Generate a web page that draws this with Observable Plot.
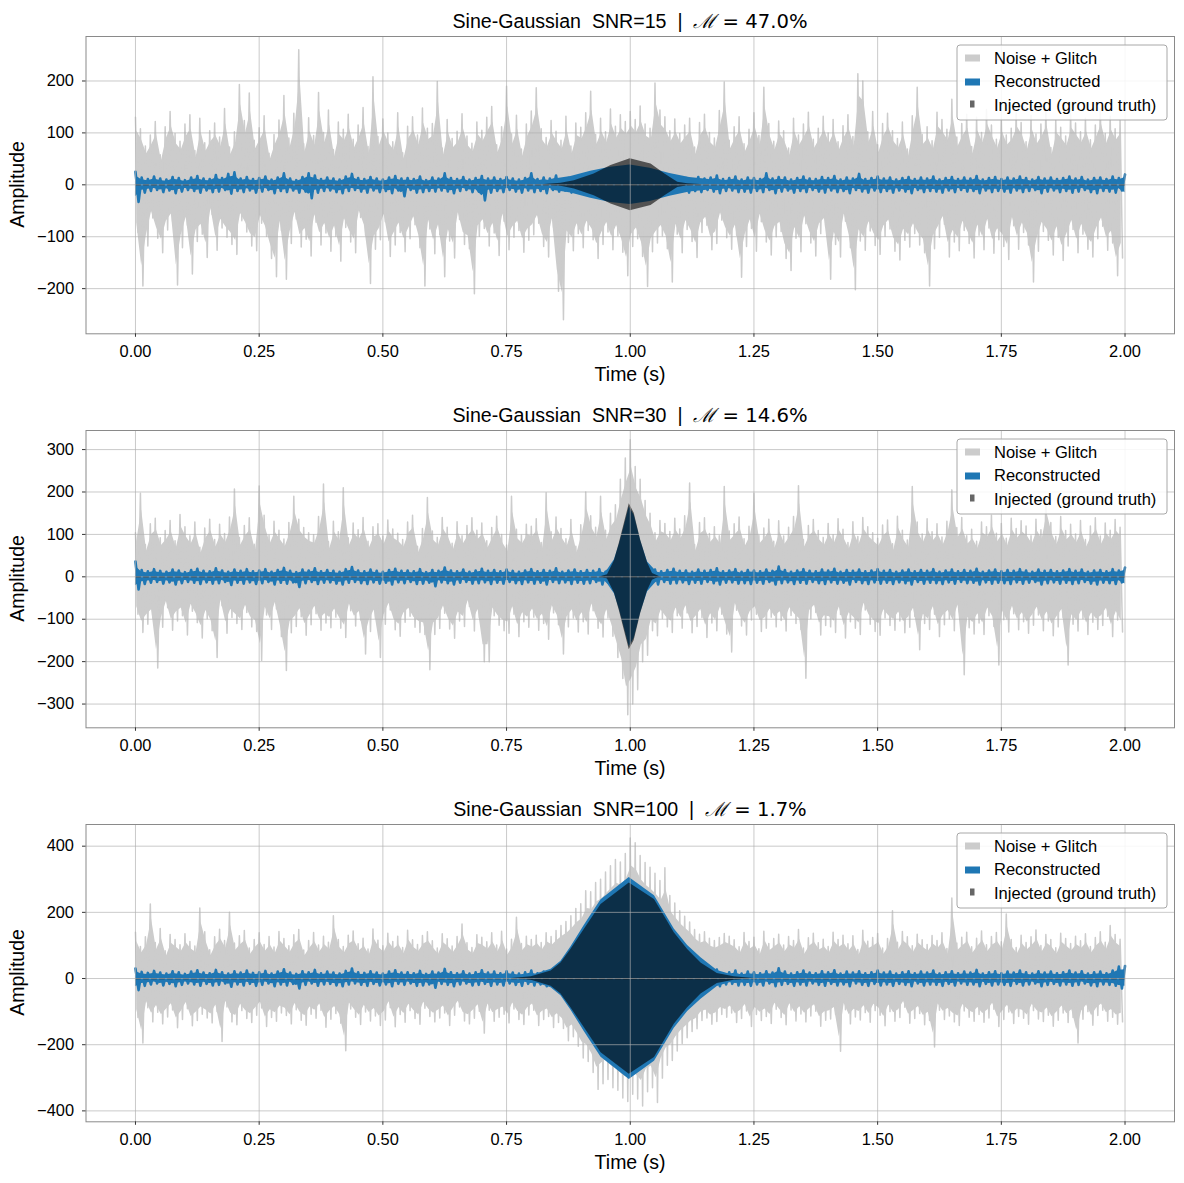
<!DOCTYPE html>
<html>
<head>
<meta charset="utf-8">
<script src="https://cdn.jsdelivr.net/npm/d3@7"></script>
<script src="https://cdn.jsdelivr.net/npm/@observablehq/plot@0.6"></script>
<style>
  html, body { margin: 0; padding: 0; background: #fff; }
  svg { display: block; }
</style>
</head>
<body>
<div id="chart"></div>
<script>
// ---------------- data ----------------
const snrLabels = ["15", "30", "100"];
const mismatchLabels = ["47.0%", "14.6%", "1.7%"];
const xTicks = [0, 0.25, 0.5, 0.75, 1.0, 1.25, 1.5, 1.75, 2.0];
const yTicks1 = [-200, -100, 0, 100, 200];
const yTicks2 = [-300, -200, -100, 0, 100, 200, 300];
const yTicks3 = [-400, -200, 0, 200, 400];
const legendLabels = ["Noise + Glitch", "Reconstructed", "Injected (ground truth)"];

const NOISE_DT = 0.005;   // sample spacing of the noise values below (s)
const REC_DT = 0.0125;    // sample spacing of the reconstructed band values (s)

// Noise + Glitch, panel 1 (SNR=15)
const noise1 = [
130,-92,108,-195,75,-118,96,-64,122,-103,58,-131,112,-87,141,-70,99,-193,84,-121,
117,-78,135,-172,66,-109,128,-95,81,-140,104,-57,119,-126,92,-83,147,-101,73,-115,
102,-134,193,-69,124,-91,177,-118,86,-127,110,-74,133,-99,61,-142,97,-177,125,-88,
172,-182,90,-113,138,-66,260,-120,79,-105,129,-137,95,-72,178,-116,101,-93,144,-128,
68,-99,121,-147,107,-82,136,-110,88,-131,115,-63,149,-97,74,-190,208,-124,93,-106,
127,-71,100,-138,83,-116,139,-92,62,-129,113,-104,131,-77,96,-121,148,-195,109,-85,
118,-133,199,-96,71,-177,126,-108,89,-141,103,-67,137,-115,94,-123,80,-210,121,-99,
105,-84,130,-118,151,-93,77,-136,112,-70,190,-125,98,-101,134,-88,69,-130,117,-107,
142,-96,187,-74,108,-119,91,-139,124,-82,103,-205,86,-260,132,-111,75,-127,119,-94,
111,-121,139,-88,180,-106,97,-142,128,-115,102,-91,146,-125,113,-98,135,-130,122,-175,
141,-119,126,-104,152,-138,117,-196,109,-129,196,-112,144,-98,131,-123,104,-187,127,-95,
99,-131,115,-86,128,-109,73,-140,120,-92,136,-78,101,-125,90,-113,143,-68,198,-102,
86,-124,112,-97,131,-178,79,-119,107,-84,139,-128,95,-71,188,-110,118,-135,84,-100,
123,-90,104,-142,71,-165,128,-103,96,-129,117,-75,140,-112,88,-137,109,-94,132,-81,
100,-182,126,-115,83,-139,114,-70,135,-121,93,-202,214,-108,200,-126,102,-89,141,-117,
77,-134,118,-99,138,-85,104,-128,89,-145,121,-107,69,-120,133,-94,188,-116,97,-131,
112,-195,85,-123,140,-101,126,-76,107,-139,165,-110,92,-127,118,-88,136,-113,74,-141,
130,-97,101,-125,145,-83,115,-132,88,-106,127,-119,96,-144,109,-79,139,-124,120,-92,
83,-116,134,-187,98,-128,117,-90,143,-107,72,-135,125,-101,111,-146,94,-118,137,-86,
119,-131,102,-95,128,-124,87,-139,115,-104,146,-80,99,-126,132,-112,108,-175,125,-141
];

// Noise + Glitch, panel 2 (SNR=30)
const noise2 = [
104,-88,197,-131,76,-112,125,-97,138,-215,92,-119,109,-73,133,-126,85,-104,147,-92,
118,-137,97,-81,129,-108,70,-144,115,-99,136,-127,88,-190,124,-68,102,-133,141,-96,
207,-110,93,-124,121,-84,139,-118,77,-129,214,-197,145,-90,98,-124,131,-76,110,-141,
89,-221,128,-132,190,-117,136,-94,116,-138,104,-113,99,-87,142,-126,219,-109,83,-120,
131,-95,106,-121,210,-143,92,-80,127,-116,111,-102,140,-182,84,-129,118,-98,125,-190,
96,-112,134,-78,113,-125,103,-140,88,-107,129,-93,145,-119,72,-131,114,-136,187,-219,
108,-136,93,-122,140,-86,117,-123,79,-145,130,-104,97,-117,121,-70,139,-128,110,-96,
127,-200,85,-200,116,-92,143,-114,100,-127,75,-133,190,-88,112,-141,98,-106,124,-119,
119,-95,137,-126,81,-110,198,-147,106,-85,141,-113,114,-182,90,-118,135,-97,72,-130,
123,-106,200,-135,144,-80,117,-121,190,-142,110,-97,150,-140,170,-190,230,-240,280,-325,
323,-300,260,-266,230,-200,180,-185,150,-127,104,-139,133,-98,126,-118,107,-131,138,-92,
113,-121,144,-85,221,-132,76,-117,128,-96,139,-143,102,-109,118,-127,97,-88,213,-135,
108,-177,125,-79,141,-116,90,-137,119,-102,197,-88,98,-129,115,-121,136,-95,84,-118,
132,-103,96,-128,117,-91,142,-110,215,-124,88,-239,121,-99,135,-84,109,-137,93,-115,
126,-118,99,-131,137,-89,112,-144,81,-106,130,-121,95,-136,140,-78,118,-112,104,-129,
91,-138,122,-97,134,-115,78,-126,143,-104,110,-132,87,-119,213,-93,129,-172,101,-110,
137,-124,106,-88,125,-141,94,-113,131,-99,205,-127,116,-83,140,-231,97,-120,112,-135,
84,-109,129,-136,118,-92,145,-117,103,-208,126,-101,91,-130,138,-87,114,-125,132,-106,
120,-133,97,-114,136,-90,111,-127,187,-104,128,-139,95,-118,142,-96,109,-208,124,-112,
101,-128,133,-99,88,-136,120,-107,139,-124,96,-115,127,-93,110,-141,135,-102,117,-130
];

// Noise + Glitch, panel 3 (SNR=100)
const noise3 = [
140,-118,97,-195,126,-88,225,-131,109,-102,151,-137,84,-116,133,-95,118,-149,102,-124,
135,-91,112,-143,98,-127,213,-108,141,-119,87,-134,126,-100,149,-190,115,-86,200,-131,
107,-140,129,-97,145,-121,92,-133,118,-111,138,-89,103,-145,127,-118,95,-129,142,-104,
121,-112,99,-137,132,-94,148,-126,86,-141,115,-108,139,-120,101,-96,128,-147,110,-123,
190,-106,118,-135,97,-218,131,-92,144,-117,105,-139,122,-101,89,-128,150,-113,116,-142,
99,-125,137,-88,112,-146,128,-109,94,-132,146,-97,117,-121,103,-138,130,-90,141,-115,
114,-131,92,-119,135,-104,120,-142,98,-111,127,-86,165,-128,108,-137,94,-120,132,-99,
125,-165,111,-96,138,-129,101,-117,143,-108,89,-134,119,-92,185,-124,106,-139,128,-110,
118,-96,131,-142,109,-124,138,-115,127,-148,145,-133,160,-151,172,-188,190,-176,212,-205,
226,-240,265,-251,262,-284,290,-335,300,-318,322,-305,341,-330,360,-338,352,-361,378,-372,
425,-350,410,-364,372,-385,351,-342,336,-330,318,-375,296,-301,335,-262,251,-248,228,-219,
205,-196,188,-179,171,-160,148,-152,134,-127,141,-119,122,-138,115,-130,124,-109,136,-117,
128,-104,117,-133,96,-121,139,-98,112,-145,125,-109,90,-127,143,-115,106,-136,121,-93,
134,-118,101,-140,127,-95,115,-128,148,-107,92,-131,123,-113,137,-99,108,-144,119,-126,
97,-122,140,-109,118,-220,131,-94,105,-137,129,-116,88,-125,146,-103,113,-132,124,-97,
136,-111,92,-143,121,-100,205,-129,110,-118,142,-87,126,-135,99,-121,134,-106,117,-140,
103,-127,130,-207,115,-96,138,-124,91,-113,243,-131,107,-142,125,-98,140,-117,96,-129,
122,-109,144,-132,102,-119,127,-93,139,-145,111,-124,195,-101,118,-136,94,-115,131,-120,
109,-138,126,-97,147,-122,100,-130,133,-111,118,-144,93,-126,137,-104,121,-133,106,-118,
128,-195,114,-123,135,-100,97,-141,124,-112,141,-96,110,-129,160,-117,133,-138,119,-131
];

// Reconstructed: upper / lower edge of the blue trace (outside the burst)
const recHi1 = [
25,14,11,16,12,10,15,13,9,14,17,12,11,19,13,21,24,12,15,11,
13,16,10,14,22,12,9,15,22,18,11,14,12,10,16,21,13,11,15,12,
10,14,17,12,13,11,16,9,14,12,22,13,11,15,10,13,17,12,14,11,
15,12,10,13,22,11,14,12,18,10,13,15,11,14,12,16,10,13,11,14,
12,16,13,10,15,11,14,17,12,13,10,15,12,14,18,11,13,16,10,14,
13,11,22,12,15,14,10,13,16,12,11,15,13,17,10,14,12,21,11,13,
16,12,14,10,13,15,11,14,12,16,10,13,15,11,14,12,17,10,13,15,
11,14,12,16,13,10,15,12,14,11,13,16,12,15,10,13,14,11,16,13,
20];
const recLo1 = [
-33,-15,-12,-10,-14,-11,-16,-13,-10,-12,-15,-11,-14,-13,-10,-17,-12,-14,-11,-15,
-13,-10,-16,-12,-14,-11,-15,-13,-26,-15,-12,-11,-14,-16,-12,-10,-13,-15,-11,-14,
-12,-16,-11,-22,-10,-15,-14,-12,-13,-11,-13,-16,-12,-10,-14,-13,-30,-15,-12,-14,
-10,-13,-15,-11,-14,-12,-16,-10,-13,-11,-15,-12,-14,-13,-10,-16,-12,-11,-14,-13,
-15,-11,-13,-12,-16,-10,-14,-13,-11,-15,-12,-14,-10,-13,-16,-12,-11,-14,-13,-15,
-12,-14,-10,-16,-13,-11,-15,-12,-14,-10,-13,-15,-11,-14,-12,-16,-10,-13,-15,-11,
-14,-12,-15,-11,-13,-16,-10,-14,-12,-13,-15,-11,-14,-10,-13,-12,-16,-11,-14,-12,
-13,-15,-11,-14,-12,-10,-16,-13,-11,-14,-12,-15,-13,-10,-14,-16,-12,-13,-15,-11,
-22];
const recHi2 = [
36,16,13,18,14,12,17,15,11,16,19,14,13,20,15,12,17,14,18,13,
15,18,12,16,21,14,11,17,15,20,13,16,14,12,18,23,15,13,17,14,
12,16,19,14,15,13,18,11,16,14,22,15,13,17,12,15,19,14,16,13,
17,14,12,15,18,13,16,14,20,12,15,17,13,16,14,18,12,15,13,16,
14,18,15,12,17,13,16,19,14,15,12,17,14,16,20,13,15,18,12,16,
15,13,17,14,24,16,12,15,18,14,13,17,15,19,12,16,14,17,13,15,
18,14,16,12,15,17,13,16,14,18,12,15,17,13,16,14,19,12,15,17,
13,16,14,18,15,12,17,14,16,13,15,18,14,17,12,15,16,13,18,15,
22];
const recLo2 = [
-30,-17,-14,-12,-16,-13,-18,-15,-12,-14,-17,-13,-16,-15,-12,-19,-14,-16,-13,-17,
-15,-12,-18,-14,-16,-13,-24,-15,-12,-17,-14,-13,-16,-18,-14,-12,-15,-17,-13,-16,
-14,-18,-13,-15,-12,-17,-16,-14,-22,-13,-15,-18,-14,-12,-16,-15,-13,-17,-14,-16,
-12,-15,-17,-13,-16,-14,-18,-12,-15,-13,-17,-14,-16,-15,-12,-18,-14,-13,-16,-15,
-17,-13,-15,-14,-18,-12,-16,-15,-13,-17,-14,-16,-12,-15,-18,-14,-13,-16,-15,-17,
-14,-16,-12,-18,-15,-13,-17,-14,-16,-12,-15,-17,-13,-16,-14,-18,-12,-15,-17,-13,
-16,-14,-17,-13,-15,-18,-12,-16,-14,-15,-17,-13,-16,-12,-15,-14,-18,-13,-16,-14,
-15,-17,-13,-16,-14,-12,-18,-15,-13,-16,-14,-17,-15,-12,-16,-18,-14,-15,-17,-13,
-24];
const recHi3 = [
30,20,17,23,18,15,22,19,14,21,25,18,16,26,19,15,22,18,24,17,
19,23,15,21,28,18,14,22,19,26,16,21,18,15,23,30,19,17,22,18,
15,21,25,18,19,16,23,14,21,18,29,19,16,22,15,19,25,18,21,16,
22,18,15,19,24,16,21,18,27,15,19,22,16,21,18,24,15,19,16,21,
18,24,19,15,22,16,21,25,18,19,15,22,18,21,27,16,19,24,15,21,
19,16,22,18,31,21,15,19,24,18,16,22,19,25,15,21,18,22,16,19,
24,18,21,15,19,22,16,21,18,24,15,19,22,16,21,18,26,15,19,22,
16,21,18,24,19,15,22,18,21,16,19,24,18,22,15,19,21,16,24,36,
38];
const recLo3 = [
-35,-22,-18,-15,-21,-16,-23,-19,-15,-18,-22,-16,-21,-19,-15,-25,-18,-21,-16,-22,
-19,-15,-23,-18,-21,-16,-30,-19,-15,-22,-18,-16,-21,-23,-18,-15,-19,-22,-16,-21,
-18,-23,-16,-19,-15,-22,-21,-18,-28,-16,-19,-23,-18,-15,-21,-19,-16,-22,-18,-21,
-15,-19,-22,-16,-21,-18,-23,-15,-19,-16,-22,-18,-21,-19,-15,-23,-18,-16,-21,-19,
-22,-16,-19,-18,-23,-15,-21,-19,-16,-22,-18,-21,-15,-19,-23,-18,-16,-21,-19,-22,
-18,-21,-15,-23,-19,-16,-22,-18,-21,-15,-19,-22,-16,-21,-18,-23,-15,-19,-22,-16,
-21,-18,-22,-16,-19,-23,-15,-21,-18,-19,-22,-16,-21,-15,-19,-18,-23,-16,-21,-18,
-19,-22,-16,-21,-18,-15,-23,-19,-16,-21,-18,-22,-19,-15,-21,-23,-18,-19,-22,-30,
-33];

// Reconstructed burst envelope (time, amplitude)
const recEnvT1 = [0.84, 0.88, 0.92, 0.96, 1.0, 1.04, 1.08, 1.12, 1.16];
const recEnvA1 = [10, 16, 26, 34, 38, 32, 22, 14, 10];
const recEnvT2 = [0.94, 0.955, 0.968, 0.978, 0.988, 0.998, 1.008, 1.021, 1.035, 1.05, 1.065];
const recEnvA2 = [0, 18, 40, 76, 120, 165, 145, 85, 35, 16, 0];
const recEnvT3 = [0.76, 0.80, 0.84, 0.86, 0.88, 0.907, 0.941, 0.998, 1.049, 1.089, 1.116, 1.143, 1.176, 1.21, 1.25];
const recEnvA3 = [0, 9, 28, 52, 95, 160, 238, 305, 250, 150, 100, 63, 24, 9, 0];

// Injected (ground truth) burst envelope (time, amplitude)
const injT1 = [0.82, 0.86, 0.887, 0.927, 0.961, 1.0, 1.042, 1.07, 1.096, 1.116, 1.15];
const injA1 = [0, 3, 8, 21, 37, 50, 40, 21, 5, 2, 0];
const injT2 = [0.94, 0.954, 0.968, 0.978, 0.988, 0.998, 1.008, 1.021, 1.035, 1.045, 1.06];
const injA2 = [0, 5, 38, 80, 126, 172, 150, 87, 33, 8, 0];
const injT3 = [0.76, 0.80, 0.84, 0.86, 0.88, 0.907, 0.941, 0.998, 1.049, 1.089, 1.116, 1.143, 1.176, 1.21, 1.25];
const injA3 = [0, 5, 23, 47, 88, 148, 224, 289, 239, 138, 88, 47, 15, 5, 0];

// ---------------- chart ----------------
const panels = [
  {snr: snrLabels[0], mism: mismatchLabels[0], yDomain: [-287, 285.7], yTicks: yTicks1, noise: noise1,
   recHi: recHi1, recLo: recLo1, envT: recEnvT1, envA: recEnvA1, injT: injT1, injA: injA1},
  {snr: snrLabels[1], mism: mismatchLabels[1], yDomain: [-356, 345], yTicks: yTicks2, noise: noise2,
   recHi: recHi2, recLo: recLo2, envT: recEnvT2, envA: recEnvA2, injT: injT2, injA: injA2},
  {snr: snrLabels[2], mism: mismatchLabels[2], yDomain: [-433, 465.5], yTicks: yTicks3, noise: noise3,
   recHi: recHi3, recLo: recLo3, envT: recEnvT3, envA: recEnvA3, injT: injT3, injA: injA3}
];

const FONT = "'Liberation Sans', Arial, Helvetica, sans-serif";
const GRAY = "#cccccc", BLUE = "#1f77b4";
const FILL_FRAC = 0.8;   // the dense (many samples per pixel) part of the grey trace

function makePanel(p) {
  const noiseRows = p.noise.map((v, i) => ({t: i * NOISE_DT, v}));
  // pairs of consecutive samples (one up, one down) -> filled min/max band
  const noisePairs = [];
  for (let i = 0; i + 1 < p.noise.length; i += 2) {
    noisePairs.push({t: (i + 0.5) * NOISE_DT, hi: p.noise[i], lo: p.noise[i + 1]});
  }
  const recRows = p.recHi.map((h, i) => ({t: i * REC_DT, hi: h, lo: p.recLo[i]}));
  const recZig = recRows.flatMap((r, i) => i < recRows.length - 1
    ? [{t: r.t, v: r.hi}, {t: r.t + REC_DT / 2, v: r.lo}]
    : [{t: r.t, v: r.hi}]);
  const envRows = p.envT.map((t, i) => ({t, a: p.envA[i]}));
  const injRows = p.injT.map((t, i) => ({t, a: p.injA[i]}));

  const svg = Plot.plot({
    width: 1184, height: 394,
    marginLeft: 85.5, marginRight: 10, marginTop: 36, marginBottom: 60.7,
    style: {fontFamily: FONT, fontSize: "16.4px", background: "#fff", color: "#000", overflow: "visible"},
    x: {domain: [-0.1, 2.1]},
    y: {domain: p.yDomain},
    marks: [
      Plot.areaY(noisePairs, {x: "t", y1: d => d.lo * FILL_FRAC, y2: d => d.hi * FILL_FRAC, fill: GRAY}),
      Plot.line(noiseRows, {x: "t", y: "v", stroke: GRAY, strokeWidth: 1.5}),
      Plot.areaY(recRows, {x: "t", y1: d => d.lo * 0.7, y2: d => d.hi * 0.7, fill: BLUE}),
      Plot.line(recZig, {x: "t", y: "v", stroke: BLUE, strokeWidth: 2.6}),
      Plot.areaY(envRows, {x: "t", y1: d => -d.a, y2: d => d.a, fill: BLUE}),
      Plot.line(recRows, {x: "t", y: () => 0, stroke: "#000", strokeOpacity: 0.6, strokeWidth: 1.3, strokeDasharray: "5,3"}),
      Plot.areaY(injRows, {x: "t", y1: d => -d.a, y2: d => d.a, fill: "#000", fillOpacity: 0.6}),
      Plot.ruleX(xTicks, {stroke: "#b0b0b0", strokeOpacity: 0.75, strokeWidth: 0.9}),
      Plot.ruleY(p.yTicks, {stroke: "#b0b0b0", strokeOpacity: 0.75, strokeWidth: 0.9}),
      Plot.frame({stroke: "#8a8a8a"}),
      Plot.axisX({ticks: xTicks, tickFormat: d3.format(".2f"), tickSize: 3.5, tickPadding: 8.5, label: null, stroke: "#333"}),
      Plot.axisY({ticks: p.yTicks, tickFormat: d3.format("d"), tickSize: 3.5, tickPadding: 8.5, label: null, stroke: "#333"})
    ]
  });

  const g = d3.select(svg);
  // title
  const title = g.append("text")
    .attr("x", 630).attr("y", 28)
    .attr("text-anchor", "middle")
    .style("font-size", "19.6px").style("white-space", "pre").attr("fill", "#000");
  title.append("tspan").style("font-family", FONT).text(`Sine-Gaussian  SNR=${p.snr}  |  `);
  title.append("tspan").style("font-family", "'DejaVu Serif', serif").style("font-style", "italic").text("\u2133");
  title.append("tspan").style("font-family", "'DejaVu Sans', sans-serif").text(` = ${p.mism}`);

  // axis labels
  g.append("text").attr("x", 630).attr("y", 381).attr("text-anchor", "middle")
    .style("font-family", FONT).style("font-size", "19.5px").attr("fill", "#000").text("Time (s)");
  g.append("text").attr("transform", "translate(24,184.5) rotate(-90)").attr("text-anchor", "middle")
    .style("font-family", FONT).style("font-size", "19.5px").attr("fill", "#000").text("Amplitude");

  // legend
  const lg = g.append("g").attr("text-anchor", "start");
  lg.append("rect").attr("x", 957).attr("y", 45).attr("width", 210).attr("height", 75).attr("rx", 3)
    .attr("fill", "#fff").attr("fill-opacity", 0.85).attr("stroke", "#a8a8a8").attr("stroke-width", 1);
  lg.append("rect").attr("x", 965).attr("y", 54.5).attr("width", 15).attr("height", 7).attr("fill", GRAY);
  lg.append("rect").attr("x", 965).attr("y", 78.5).attr("width", 15).attr("height", 7).attr("fill", BLUE);
  lg.append("rect").attr("x", 970).attr("y", 100.5).attr("width", 4.5).attr("height", 7).attr("fill", "#000").attr("fill-opacity", 0.6);
  const rowsY = [63.7, 87.3, 110.7];
  legendLabels.forEach((s, i) => {
    lg.append("text").attr("x", 994).attr("y", rowsY[i]).attr("text-anchor", "start")
      .style("font-family", FONT).style("font-size", "16.5px").attr("fill", "#000").text(s);
  });
  return svg;
}

const root = document.getElementById("chart");
panels.forEach(p => root.appendChild(makePanel(p)));
</script>
</body>
</html>
